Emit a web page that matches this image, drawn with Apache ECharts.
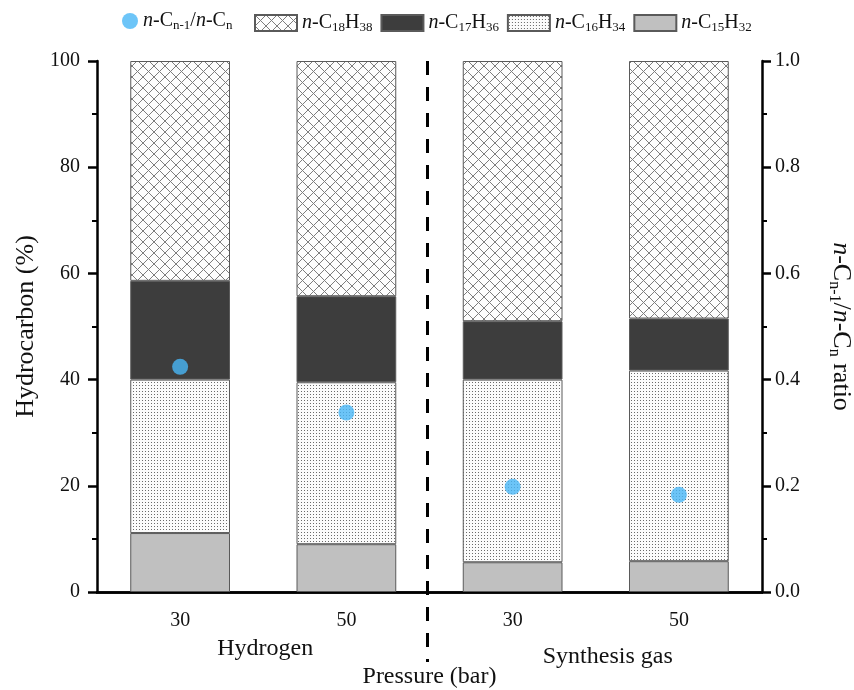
<!DOCTYPE html>
<html>
<head>
<meta charset="utf-8">
<script src="https://cdn.jsdelivr.net/npm/echarts@6/dist/echarts.min.js"></script>
<style>
  html, body { margin: 0; padding: 0; background: #fff; }
  #chart { width: 854px; height: 690px; }
</style>
</head>
<body>
<div id="chart"></div>
<script>
// Pressure categories and the gas each pair of runs used
const pressures = ['30', '50', '30', '50'];
const gases = ['Hydrogen', 'Synthesis gas'];

// Hydrocarbon distribution (%) per run, stacked bottom to top
const c15 = [11.1, 9.0, 5.6, 5.8];
const c16 = [28.9, 30.5, 34.4, 35.9];
const c17 = [18.6, 16.2, 11.0, 9.8];
const c18 = [41.4, 44.3, 49.0, 48.5];

// n-C(n-1)/n-C(n) ratio per run (right axis)
const ratio = [0.424, 0.338, 0.198, 0.183];

const leftTicks = { min: 0, max: 100, interval: 20 };
const rightTicks = { min: 0, max: 1, interval: 0.2 };

const FONT = '"Liberation Serif", "Times New Roman", serif';

function crossHatch() {
  const c = document.createElement('canvas');
  c.width = 11; c.height = 11;
  const g = c.getContext('2d');
  g.fillStyle = '#fdfdfd';
  g.fillRect(0, 0, 11, 11);
  g.strokeStyle = '#7d7d7d';
  g.lineWidth = 1;
  g.beginPath();
  g.moveTo(0, 0); g.lineTo(11, 11);
  g.moveTo(11, 0); g.lineTo(0, 11);
  g.stroke();
  return c;
}

function dots() {
  const c = document.createElement('canvas');
  c.width = 3; c.height = 3;
  const g = c.getContext('2d');
  g.fillStyle = '#fbfbfb';
  g.fillRect(0, 0, 3, 3);
  g.fillStyle = '#6a6a6a';
  g.fillRect(1, 1, 1, 1);
  return c;
}

function richSet(base, sub, drop) {
  return {
    i: { fontFamily: FONT, fontStyle: 'italic', fontSize: base, color: '#111' },
    t: { fontFamily: FONT, fontSize: base, color: '#111' },
    s: { fontFamily: FONT, fontSize: sub, color: '#111', padding: [drop, 0, 0, 0] }
  };
}

const legendRich = richSet(20, 13, 10);

const legendNames = {
  ratio: '{i|n}{t|-C}{s|n-1}{t|/}{i|n}{t|-C}{s|n}',
  C18: '{i|n}{t|-C}{s|18}{t|H}{s|38}',
  C17: '{i|n}{t|-C}{s|17}{t|H}{s|36}',
  C16: '{i|n}{t|-C}{s|16}{t|H}{s|34}',
  C15: '{i|n}{t|-C}{s|15}{t|H}{s|32}'
};

const barBorder = { borderColor: '#5a5a5a', borderWidth: 1 };

const chart = echarts.init(document.getElementById('chart'), null, { renderer: 'canvas' });

const axisLineStyle = { color: '#000', width: 2.5 };
const tickStyle = { width: 2.5, color: '#000' };
const minorStyle = { width: 2, color: '#000' };
const labelStyle = { fontFamily: FONT, fontSize: 20, color: '#111' };

const option = {
  backgroundColor: '#fff',
  animation: false,
  grid: { left: 97, right: 92, top: 61, bottom: 98, containLabel: false, outerBoundsMode: 'none' },
  legend: [
    {
      data: [{ name: 'ratio', icon: 'circle' }],
      left: 122, top: 11, padding: 0,
      itemWidth: 16, itemHeight: 16,
      formatter: n => legendNames[n],
      textStyle: { rich: legendRich }
    },
    {
      data: ['C18', 'C17', 'C16', 'C15'],
      left: 254, top: 13, padding: 0,
      icon: 'rect',
      itemWidth: 42, itemHeight: 16, itemGap: 8,
      formatter: n => legendNames[n],
      textStyle: { rich: legendRich }
    }
  ],
  xAxis: [
    {
      type: 'category',
      data: pressures,
      position: 'bottom',
      axisLine: { lineStyle: axisLineStyle },
      axisTick: { alignWithLabel: true, length: 9, lineStyle: tickStyle },
      axisLabel: Object.assign({ margin: 19 }, labelStyle),
      name: 'Pressure (bar)',
      nameLocation: 'middle',
      nameGap: 73,
      nameTextStyle: { fontFamily: FONT, fontSize: 24, color: '#111' }
    },
    {
      type: 'category',
      data: pressures,
      position: 'top',
      axisLine: { lineStyle: axisLineStyle },
      axisTick: { show: false },
      axisLabel: { show: false }
    }
  ],
  yAxis: [
    {
      type: 'value',
      min: leftTicks.min, max: leftTicks.max, interval: leftTicks.interval,
      position: 'left',
      axisLine: { show: true, lineStyle: axisLineStyle },
      axisTick: { show: true, length: 9, lineStyle: tickStyle },
      minorTick: { show: true, splitNumber: 2, length: 5, lineStyle: minorStyle },
      splitLine: { show: false },
      axisLabel: Object.assign({ margin: 17 }, labelStyle),
      name: 'Hydrocarbon (%)',
      nameLocation: 'middle',
      nameRotate: 90,
      nameGap: 56,
      nameTextStyle: { fontFamily: FONT, fontSize: 26, color: '#111' }
    },
    {
      type: 'value',
      min: rightTicks.min, max: rightTicks.max, interval: rightTicks.interval,
      position: 'right',
      axisLine: { show: true, lineStyle: axisLineStyle },
      axisTick: { show: true, length: 9, lineStyle: tickStyle },
      minorTick: { show: true, splitNumber: 2, length: 5, lineStyle: minorStyle },
      splitLine: { show: false },
      axisLabel: Object.assign({ margin: 13, formatter: v => v.toFixed(1) }, labelStyle),
      name: '{i|n}{t|-C}{s|n-1}{t|/}{i|n}{t|-C}{s|n}{t| ratio}',
      nameLocation: 'middle',
      nameRotate: -90,
      nameGap: 64,
      nameTextStyle: { rich: richSet(26, 16, 13) }
    }
  ],
  series: [
    {
      name: 'C15', type: 'bar', stack: 'hc', data: c15, barWidth: '60%',
      itemStyle: Object.assign({ color: '#c0c0c0' }, barBorder)
    },
    {
      name: 'C16', type: 'bar', stack: 'hc', data: c16, barWidth: '60%',
      itemStyle: Object.assign({ color: { image: dots(), repeat: 'repeat' } }, barBorder)
    },
    {
      name: 'C17', type: 'bar', stack: 'hc', data: c17, barWidth: '60%',
      itemStyle: Object.assign({ color: '#3d3d3d' }, barBorder)
    },
    {
      name: 'C18', type: 'bar', stack: 'hc', data: c18, barWidth: '60%',
      itemStyle: Object.assign({ color: { image: crossHatch(), repeat: 'repeat' } }, barBorder)
    },
    {
      name: 'ratio', type: 'scatter', yAxisIndex: 1, data: ratio,
      symbol: 'circle', symbolSize: 16,
      itemStyle: { color: '#49b6f6' },
      z: 5
    }
  ]
};

chart.setOption(option);

// Separator between the two gas groups and the group captions under the axis
const xSep = (chart.convertToPixel({ xAxisIndex: 0 }, 1) + chart.convertToPixel({ xAxisIndex: 0 }, 2)) / 2;
const yTop = chart.convertToPixel({ yAxisIndex: 0 }, leftTicks.max);
const hX = (chart.convertToPixel({ xAxisIndex: 0 }, 0) + chart.convertToPixel({ xAxisIndex: 0 }, 1)) / 2;
const sX = (chart.convertToPixel({ xAxisIndex: 0 }, 2) + chart.convertToPixel({ xAxisIndex: 0 }, 3)) / 2;

chart.setOption({
  graphic: [
    {
      type: 'line', z: 10,
      shape: { x1: xSep - 2, y1: yTop, x2: xSep - 2, y2: 662 },
      style: { stroke: '#000', lineWidth: 3, lineDash: [14, 12] }
    },
    {
      type: 'text', z: 10, x: hX + 2, y: 649,
      style: { text: gases[0], fontFamily: FONT, fontSize: 24, fill: '#111', textAlign: 'center', textVerticalAlign: 'middle' }
    },
    {
      type: 'text', z: 10, x: sX + 12, y: 657,
      style: { text: gases[1], fontFamily: FONT, fontSize: 24, fill: '#111', textAlign: 'center', textVerticalAlign: 'middle' }
    }
  ]
});
</script>
</body>
</html>
